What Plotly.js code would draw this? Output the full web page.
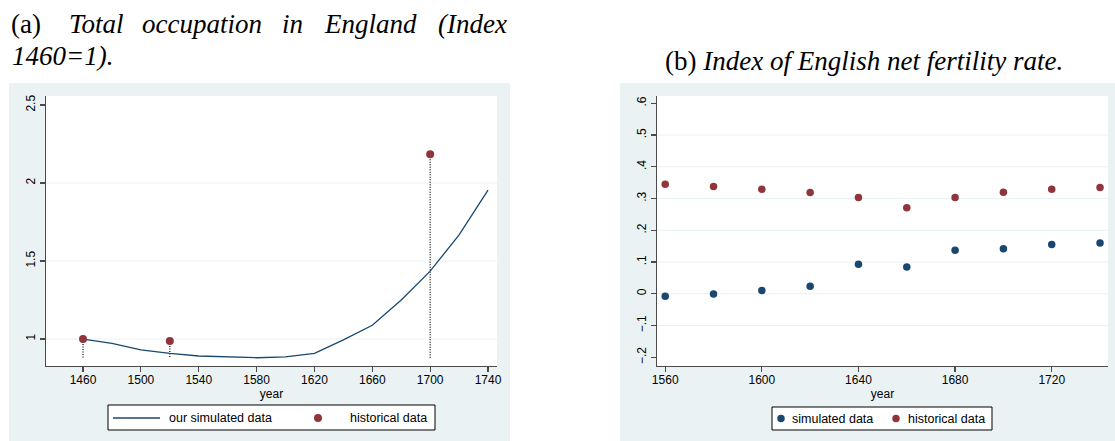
<!DOCTYPE html>
<html>
<head>
<meta charset="utf-8">
<script src="https://cdn.plot.ly/plotly-3.0.1.min.js"></script>
<style>html,body{margin:0;padding:0;background:#fff;}#chart{width:1115px;height:441px;}</style>
</head>
<body>
<div id="chart"></div>
<script>
// ---- Panel (a): total occupation ----
const yearsA = [1460,1480,1500,1520,1540,1560,1580,1600,1620,1640,1660,1680,1700,1720,1740];
const simA = [1.0,0.972,0.93,0.908,0.891,0.884,0.88,0.886,0.908,0.995,1.088,1.25,1.435,1.668,1.955];
const histYearsA = [1460,1520,1700];
const histA = [1.0,0.987,2.184];
const xTicksA = [1460,1500,1540,1580,1620,1660,1700,1740];
const yTicksA = [1,1.5,2,2.5];
const yTickTextA = ['1','1.5','2','2.5'];
const gridA = [1,1.5,2];

// ---- Panel (b): net fertility index ----
const yearsB = [1560,1580,1600,1620,1640,1660,1680,1700,1720,1740];
const simB = [-0.008,-0.001,0.01,0.024,0.093,0.084,0.137,0.142,0.155,0.16];
const histB = [0.345,0.338,0.329,0.319,0.303,0.271,0.303,0.320,0.329,0.335];
const xTicksB = [1560,1600,1640,1680,1720];
const yTicksB = [-0.2,-0.1,0,0.1,0.2,0.3,0.4,0.5,0.6];
const yTickTextB = ['\u2212.2','\u2212.1','0','.1','.2','.3','.4','.5','.6'];
const gridB = [-0.1,0,0.1,0.2,0.3,0.4,0.5];

const legendA = ['our simulated data', 'historical data'];
const legendB = ['simulated data', 'historical data'];

const NAVY = '#1a476f', MAROON = '#90353b', BG = '#eaf2f3', AX = '#4a4a4a';
const W = 1115, H = 441;
const px = v => v / W, py = v => 1 - v / H;

// drop lines from historical points down to the lowest simulated value
const base = Math.min(...simA);
const dropX = [], dropY = [];
histYearsA.forEach((yr, i) => { dropX.push(yr, yr, null); dropY.push(histA[i], base, null); });

const traces = [
  {x: dropX, y: dropY, type: 'scatter', mode: 'lines', line: {color: '#000', width: 1.2, dash: '1px,1.5px'},
   hoverinfo: 'skip', xaxis: 'x', yaxis: 'y'},
  {x: yearsA, y: simA, type: 'scatter', mode: 'lines', name: legendA[0],
   line: {color: NAVY, width: 1.3}, xaxis: 'x', yaxis: 'y'},
  {x: histYearsA, y: histA, type: 'scatter', mode: 'markers', name: legendA[1],
   marker: {color: MAROON, size: 8}, xaxis: 'x', yaxis: 'y'},
  {x: yearsB, y: simB, type: 'scatter', mode: 'markers', name: legendB[0],
   marker: {color: NAVY, size: 7.5}, xaxis: 'x2', yaxis: 'y2'},
  {x: yearsB, y: histB, type: 'scatter', mode: 'markers', name: legendB[1],
   marker: {color: MAROON, size: 7.5}, xaxis: 'x2', yaxis: 'y2'}
];

const tickFont = {family: 'Liberation Sans', size: 12, color: '#000'};
function xAxis(domain, range, ticks) {
  return {domain, range, tickvals: ticks, ticktext: ticks.map(String), tickmode: 'array',
    showgrid: false, zeroline: false, showline: true, linecolor: AX, linewidth: 1.2,
    ticks: 'outside', ticklen: 5, tickcolor: AX, tickwidth: 1.2, tickfont: tickFont, ticklabelstandoff: -3,
    title: {text: 'year', font: tickFont, standoff: 0}, fixedrange: true};
}
function yAxis(domain, range, ticks, text) {
  return {domain, range, tickvals: ticks, ticktext: text, tickmode: 'array', tickangle: -90,
    showgrid: false, zeroline: false, showline: true, linecolor: AX, linewidth: 1.2,
    ticks: 'outside', ticklen: 5, tickcolor: AX, tickwidth: 1.2, tickfont: tickFont, fixedrange: true};
}

const shapes = [
  {type: 'rect', xref: 'paper', yref: 'paper', x0: px(9), x1: px(510), y0: 0, y1: py(83),
   fillcolor: BG, line: {width: 0}, layer: 'below'},
  {type: 'rect', xref: 'paper', yref: 'paper', x0: px(620), x1: 1, y0: 0, y1: py(83),
   fillcolor: BG, line: {width: 0}, layer: 'below'},
  {type: 'rect', xref: 'x domain', yref: 'y domain', x0: 0, x1: 1, y0: 0, y1: 1,
   fillcolor: '#fff', line: {width: 0}, layer: 'below'},
  {type: 'rect', xref: 'x2 domain', yref: 'y2 domain', x0: 0, x1: 1, y0: 0, y1: 1,
   fillcolor: '#fff', line: {width: 0}, layer: 'below'}
];
gridA.forEach(g => shapes.push({type: 'line', xref: 'x domain', yref: 'y', x0: 0, x1: 1, y0: g, y1: g,
  line: {color: BG, width: 1}, layer: 'below'}));
gridB.forEach(g => shapes.push({type: 'line', xref: 'x2 domain', yref: 'y2', x0: 0, x1: 1, y0: g, y1: g,
  line: {color: BG, width: 1}, layer: 'below'}));

// legend boxes (drawn by hand to mimic the Stata legend layout)
function box(x0, x1, y0, y1) {
  return {type: 'rect', xref: 'paper', yref: 'paper', x0: px(x0), x1: px(x1), y0: py(y1), y1: py(y0),
    fillcolor: '#fff', line: {color: '#000', width: 1}};
}
function dot(cx, cy, d, color) {
  return {type: 'circle', xref: 'paper', yref: 'paper', xsizemode: 'pixel', ysizemode: 'pixel',
    xanchor: px(cx), yanchor: py(cy), x0: -d / 2, x1: d / 2, y0: -d / 2, y1: d / 2,
    fillcolor: color, line: {width: 0}};
}
shapes.push(box(108, 435, 405, 430));
shapes.push({type: 'line', xref: 'paper', yref: 'paper', x0: px(113), x1: px(160), y0: py(418), y1: py(418),
  line: {color: NAVY, width: 1.3}});
shapes.push(dot(318, 418, 8, MAROON));
shapes.push(box(772, 992, 407, 430));
shapes.push(dot(781, 418.5, 7.5, NAVY));
shapes.push(dot(896, 418.5, 7.5, MAROON));

const serif = 'Liberation Serif';
const titleFont = {family: serif, size: 27, color: '#000'};
const wordsA = [['(a)', 26, false], ['Total', 96, true], ['occupation', 201.5, true], ['in', 292.5, true],
                ['England', 370, true], ['(Index', 472.5, true]];
const annotations = wordsA.map(w => ({text: w[2] ? '<i>' + w[0] + '</i>' : w[0], xref: 'paper', yref: 'paper',
  x: px(w[1]), y: py(24), xanchor: 'center', yanchor: 'middle', showarrow: false, font: titleFont}));
annotations.push({text: '<i>1460=1).</i>', xref: 'paper', yref: 'paper', x: px(10), y: py(56),
  xanchor: 'left', yanchor: 'middle', showarrow: false, font: titleFont});
annotations.push({text: '(b) <i>Index of English net fertility rate.</i>', xref: 'paper', yref: 'paper',
  x: px(864), y: py(61), xanchor: 'center', yanchor: 'middle', showarrow: false, font: titleFont});

const legendFont = {family: 'Liberation Sans', size: 12.5, color: '#000'};
[[legendA[0], 168, 418], [legendA[1], 349, 418], [legendB[0], 791, 418.5], [legendB[1], 907, 418.5]].forEach(l =>
  annotations.push({text: l[0], xref: 'paper', yref: 'paper', x: px(l[1]), y: py(l[2]), xanchor: 'left',
    yanchor: 'middle', showarrow: false, font: legendFont, xshift: -1}));

const layout = {
  width: W, height: H, margin: {l: 0, r: 0, t: 0, b: 0},
  paper_bgcolor: '#fff', plot_bgcolor: 'rgba(0,0,0,0)', showlegend: false,
  xaxis: xAxis([px(46), px(497)], [1434.4, 1746.2], xTicksA),
  yaxis: yAxis([py(366), py(96)], [0.827, 2.558], yTicksA, yTickTextA),
  xaxis2: Object.assign(xAxis([px(657), px(1108)], [1556.6, 1743.3], xTicksB), {anchor: 'y2'}),
  yaxis2: Object.assign(yAxis([py(366), py(96)], [-0.2275, 0.623], yTicksB, yTickTextB), {anchor: 'x2'}),
  shapes, annotations
};

Plotly.newPlot('chart', traces, layout, {displayModeBar: false, staticPlot: true});
</script>
</body>
</html>
